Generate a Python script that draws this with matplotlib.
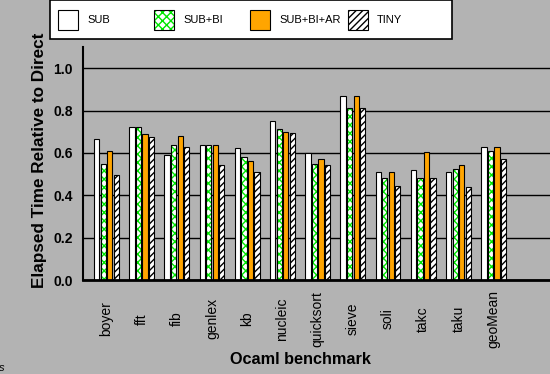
import numpy as np
import matplotlib
matplotlib.use('Agg')
import matplotlib.pyplot as plt
from matplotlib.patches import Rectangle

plt.rcParams['font.family'] = ['Liberation Sans', 'DejaVu Sans']
plt.rcParams['hatch.linewidth'] = 1.0

benchmarks = ['boyer', 'fft', 'fib', 'genlex', 'kb', 'nucleic', 'quicksort',
              'sieve', 'soli', 'takc', 'taku', 'geoMean']
series = ['SUB', 'SUB+BI', 'SUB+BI+AR', 'TINY']
sub = [0.664, 0.720, 0.588, 0.635, 0.621, 0.749, 0.598, 0.871, 0.508, 0.517, 0.508, 0.626]
sub_bi = [0.550, 0.720, 0.635, 0.635, 0.579, 0.711, 0.546, 0.810, 0.480, 0.480, 0.522, 0.607]
sub_bi_ar = [0.607, 0.687, 0.682, 0.635, 0.560, 0.697, 0.569, 0.871, 0.508, 0.602, 0.541, 0.630]
tiny = [0.498, 0.673, 0.630, 0.541, 0.508, 0.692, 0.541, 0.810, 0.442, 0.480, 0.437, 0.569]

gray = '#b3b3b3'
green = '#00e600'
orange = '#ffa500'

fig = plt.figure(figsize=(5.5, 3.74), dpi=100, facecolor=gray)
ax = fig.add_axes([82.7 / 550, 94 / 374, 1 - 82.7 / 550, 233 / 374])
ax.set_facecolor(gray)

x = np.arange(len(benchmarks))
w = 0.15
step = 0.185
offs = [-1.5 * step, -0.5 * step, 0.5 * step, 1.5 * step]

ax.bar(x + offs[0], sub, w, color='white', edgecolor='black', lw=0.8, zorder=3)
# green checker pattern: hatch layer then outline
ax.bar(x + offs[1], sub_bi, w, color='white', edgecolor=green, hatch='xxxx', lw=0, zorder=3)
ax.bar(x + offs[1], sub_bi, w, fill=False, edgecolor='black', lw=0.8, zorder=4)
ax.bar(x + offs[2], sub_bi_ar, w, color=orange, edgecolor='black', lw=0.8, zorder=3)
ax.bar(x + offs[3], tiny, w, color='white', edgecolor='black', hatch='/////', lw=0.8, zorder=3)

ax.set_xlim(-0.676, 12.6)
ax.set_ylim(0, 1.1)
ax.set_yticks([0.0, 0.2, 0.4, 0.6, 0.8, 1.0])
ax.set_yticklabels(['0.0', '0.2', '0.4', '0.6', '0.8', '1.0'], fontweight='bold', fontsize=10)
ax.yaxis.grid(True, color='black', lw=1.0, zorder=1)
ax.set_axisbelow(True)
ax.tick_params(axis='y', length=0, pad=7)
ax.set_xticks(x)
ax.set_xticklabels(benchmarks, rotation=90, va='center', fontsize=10)
ax.tick_params(axis='x', length=0, pad=28)

for s in ['top', 'right']:
    ax.spines[s].set_visible(False)
ax.spines['left'].set_linewidth(1.5)
ax.spines['bottom'].set_linewidth(2)
ax.spines['bottom'].set_zorder(5)

ax.set_ylabel('Elapsed Time Relative to Direct', fontweight='bold', fontsize=12.3)
ax.yaxis.set_label_coords(-0.093, 0.513)
ax.yaxis.label.set_va('center')
ax.set_xlabel('Ocaml benchmark', fontweight='bold', fontsize=11.7)
ax.xaxis.set_label_coords(0.465, -0.343)
ax.xaxis.label.set_va('center')

# legend box drawn in figure pixel positions
def fx(px):
    return px / 550

def fy(py):
    return 1 - py / 374

fig.add_artist(Rectangle((fx(50), fy(39)), fx(402), 39 / 374, transform=fig.transFigure,
                         facecolor='white', edgecolor='black', lw=1.2, zorder=10))
leg_x = [58, 154, 250, 348]
styles = [dict(facecolor='white', hatch=None),
          dict(facecolor='white', hatch='xxxx'),
          dict(facecolor=orange, hatch=None),
          dict(facecolor='white', hatch='/////')]
for i, name in enumerate(series):
    st = styles[i]
    if i == 1:
        fig.add_artist(Rectangle((fx(leg_x[i]), fy(30)), fx(20), 20 / 374, transform=fig.transFigure,
                                 facecolor='white', edgecolor=green, hatch='xxxx', lw=0, zorder=11))
        fig.add_artist(Rectangle((fx(leg_x[i]), fy(30)), fx(20), 20 / 374, transform=fig.transFigure,
                                 fill=False, edgecolor='black', lw=0.8, zorder=12))
    else:
        fig.add_artist(Rectangle((fx(leg_x[i]), fy(30)), fx(20), 20 / 374, transform=fig.transFigure,
                                 facecolor=st['facecolor'], edgecolor='black', hatch=st['hatch'],
                                 lw=0.8, zorder=11))
    fig.text(fx(leg_x[i] + 29), fy(20), name, fontsize=8, va='center', ha='left', zorder=12)

fig.text(fx(-1), fy(373), 's', fontsize=8, va='bottom', ha='left', style='italic')

fig.savefig('out.png', dpi=100, facecolor=gray)
